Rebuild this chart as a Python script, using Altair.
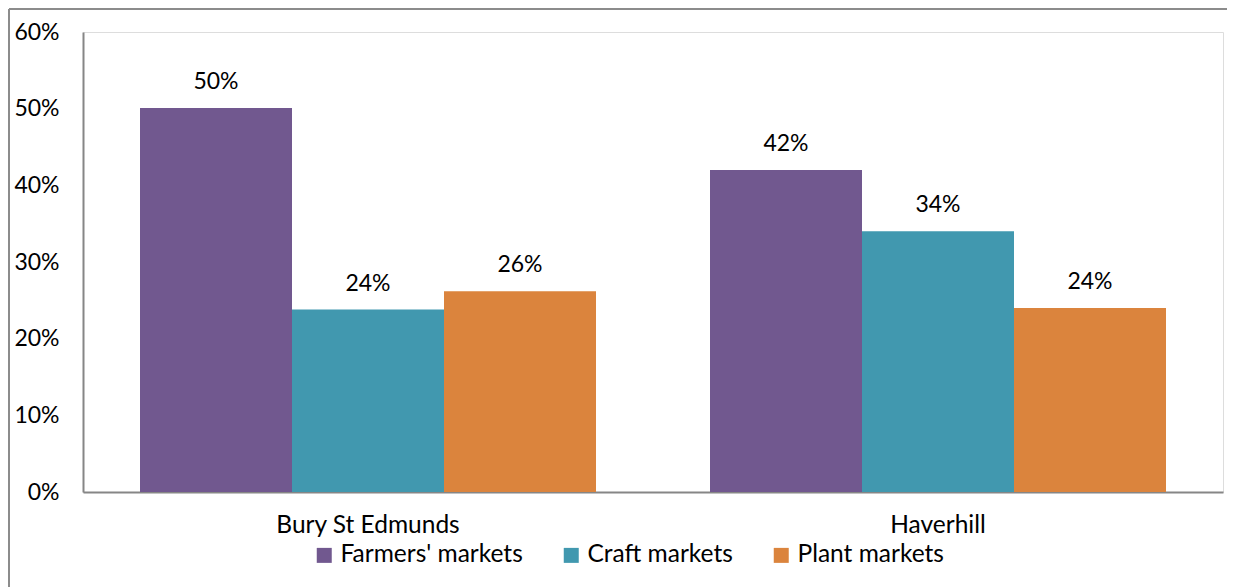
import altair as alt
import pandas as pd

towns = ["Bury St Edmunds", "Haverhill"]
market_types = ["Farmers' markets", "Craft markets", "Plant markets"]
farmers = [50.1, 42.0]
craft = [23.8, 34.0]
plant = [26.2, 24.0]
colors = ["#71588F", "#4198AF", "#DB843D"]
y_ticks = [0, 0.1, 0.2, 0.3, 0.4, 0.5, 0.6]
title_text = "Market non-users"

rows = []
for i, t in enumerate(towns):
    for m, vals in zip(market_types, [farmers, craft, plant]):
        rows.append({"town": t, "market": m, "value": vals[i] / 100})
df = pd.DataFrame(rows)

FONT = "Lato"

x = alt.X(
    "town:N", sort=towns,
    scale=alt.Scale(paddingInner=0.2, paddingOuter=0.1),
    axis=alt.Axis(title=None, labelAngle=0, labelFontSize=24.5, labelPadding=21,
                  labelLimit=0, ticks=False, domainColor="#868686", domainWidth=2,
                  labelColor="black", labelFont=FONT),
)
xo = alt.XOffset("market:N", sort=market_types,
                 scale=alt.Scale(paddingInner=0, paddingOuter=0))
y = alt.Y(
    "value:Q",
    scale=alt.Scale(domain=[0, 0.6], nice=False),
    axis=alt.Axis(title=None, format=".0%", values=y_ticks, grid=False, ticks=False,
                  labelPadding=24, domainColor="#868686", domainWidth=2,
                  labelFontSize=23, labelColor="black", labelFont=FONT),
)
color = alt.Color(
    "market:N", sort=market_types,
    scale=alt.Scale(domain=market_types, range=colors),
    legend=alt.Legend(title=None, orient="none", direction="horizontal",
                      legendX=229, legendY=511, symbolType="square",
                      symbolSize=225, symbolStrokeWidth=0, labelFontSize=24.5,
                      labelFont=FONT, labelColor="black", columnPadding=36,
                      labelOffset=4, labelLimit=0),
)

bars = alt.Chart(df).mark_bar().encode(x=x, xOffset=xo, y=y, color=color)
labels = alt.Chart(df).mark_text(dy=-19, baseline="alphabetic", fontSize=23,
                                 font=FONT, color="black").encode(
    x=x, xOffset=xo, y=y, text=alt.Text("value:Q", format=".0%"))

frame_src = alt.Data(values=[{"label": title_text}])
frame_left = alt.Chart(frame_src).mark_rule(color="#8c8c8c", strokeWidth=2).encode(
    x=alt.value(-74), y=alt.value(-23), y2=alt.value(600))
frame_top = alt.Chart(frame_src).mark_rule(color="#8c8c8c", strokeWidth=2).encode(
    x=alt.value(-74), x2=alt.value(1160), y=alt.value(-23))
title = alt.Chart(frame_src).mark_text(align="left", baseline="alphabetic",
                                       fontSize=28, fontWeight="bold", font=FONT,
                                       color="black").encode(
    x=alt.value(-60), y=alt.value(-28), text="label:N")

chart = alt.layer(bars, labels, frame_left, frame_top, title).properties(
    width=1140, height=460,
    autosize=alt.AutoSizeParams(type="none"),
    padding={"left": 75, "top": 24, "right": 4, "bottom": 95},
).configure_view(stroke="#4F81BD", strokeWidth=2).configure(
    background="white")

chart.save("out.html", embed_options={"renderer": "svg", "actions": False})
